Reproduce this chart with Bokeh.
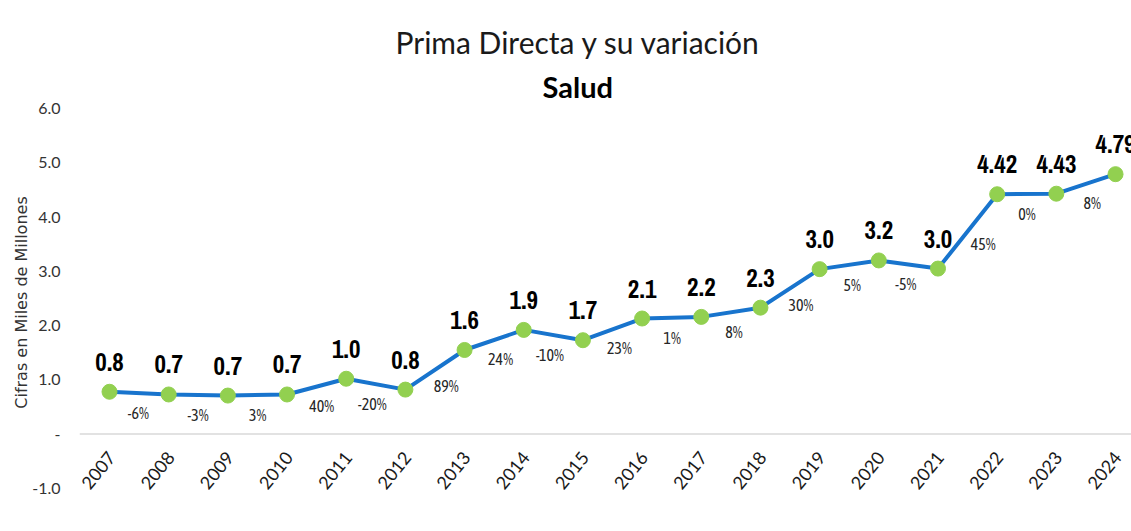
import math
from bokeh.plotting import figure
from bokeh.models import Range1d, FixedTicker, ColumnDataSource, Title, NumeralTickFormatter, Span
from bokeh.core.properties import value
from bokeh.embed import file_html
from bokeh.resources import INLINE

years = ["2007", "2008", "2009", "2010", "2011", "2012", "2013", "2014", "2015",
         "2016", "2017", "2018", "2019", "2020", "2021", "2022", "2023", "2024"]
prima = [0.78, 0.73, 0.71, 0.73, 1.02, 0.82, 1.55, 1.92, 1.73,
         2.13, 2.16, 2.33, 3.04, 3.20, 3.05, 4.42, 4.43, 4.79]
prima_labels = ["0.8", "0.7", "0.7", "0.7", "1.0", "0.8", "1.6", "1.9", "1.7",
                "2.1", "2.2", "2.3", "3.0", "3.2", "3.0", "4.42", "4.43", "4.79"]
variation = [-6, -3, 3, 40, -20, 89, 24, -10, 23, 1, 8, 30, 5, -5, 45, 0, 8]
y_ticks = [-1, 0, 1, 2, 3, 4, 5, 6]

BODY = "Lato"
NUM = "Archivo Narrow"
PCT = "Asap Condensed"

W, H = 1131, 531
LEFT, TOP, BOTTOM = 79, 108, 35
X0, X1 = -0.507, 17.27
Y0, Y1 = -1.15, 6.0
ux = (W - LEFT) / (X1 - X0)
uy = (H - TOP - BOTTOM) / (Y1 - Y0)

idx = list(range(len(years)))
src = ColumnDataSource(dict(x=idx, y=prima, lab=prima_labels))
ysrc = ColumnDataSource(dict(x=idx, y=[0] * len(years), lab=years))

# variation labels: midway along each segment, pushed below the line (perpendicular)
mx, my, ox, oy = [], [], [], []
for i in range(len(variation)):
    dv = (prima[i + 1] - prima[i]) * uy
    ln = math.hypot(ux, dv)
    mx.append(i + 0.5)
    my.append((prima[i] + prima[i + 1]) / 2)
    ox.append(20 * dv / ln)
    oy.append(20 * ux / ln)
mid = ColumnDataSource(dict(x=mx, y=my, ox=ox, oy=oy, lab=[f"{v}%" for v in variation]))

p = figure(width=W, height=H, x_range=Range1d(X0, X1), y_range=Range1d(Y0, Y1),
           output_backend="svg", toolbar_location=None,
           min_border_left=LEFT, min_border_right=0, min_border_top=TOP, min_border_bottom=BOTTOM)
p.outline_line_color = None
p.grid.visible = False
p.xaxis.visible = False

p.add_layout(Title(text="Salud", align="left", offset=463, text_font=BODY, standoff=10,
                   text_font_size="29px", text_font_style="bold", text_color="black"), "above")
p.add_layout(Title(text="Prima Directa y su variación", align="left", offset=316, standoff=3,
                   text_font=BODY, text_font_size="30px", text_font_style="normal",
                   text_color="#1a1a1a"), "above")

p.add_layout(Span(location=0, dimension="width", line_color="#d9d9d9", line_width=1.5))

ya = p.yaxis[0]
ya.ticker = FixedTicker(ticks=y_ticks)
ya.formatter = NumeralTickFormatter(format="0.0")
ya.major_label_overrides = {0: "-"}
ya.axis_line_color = None
ya.major_tick_line_color = None
ya.major_tick_out = 0
ya.major_tick_in = 0
ya.minor_tick_line_color = None
ya.major_label_standoff = 19
ya.major_label_text_font = BODY
ya.major_label_text_font_size = "16px"
ya.major_label_text_color = "#333333"
ya.axis_label = "Cifras en Miles de Millones"
ya.axis_label_text_font = "DejaVu Sans"
ya.axis_label_text_font_size = "16px"
ya.axis_label_text_font_style = "normal"
ya.axis_label_text_color = "#333333"
ya.axis_label_standoff = -2

p.line("x", "y", source=src, line_color="#1874CD", line_width=4)
p.scatter("x", "y", source=src, size=15, fill_color="#92D050", line_color="#92D050")
p.text("x", "y", text="lab", source=src, y_offset=-30, text_align="center",
       text_baseline="middle", text_font=value(NUM), text_font_style="bold",
       text_font_size="25px", text_color="black")
p.text("x", "y", text="lab", source=mid, x_offset="ox", y_offset="oy", text_align="center",
       text_baseline="middle", text_font=value(PCT), text_font_size="16px",
       text_color="#262626")
p.text("x", "y", text="lab", source=ysrc, angle=0.89, x_offset=2, y_offset=20,
       text_align="right", text_baseline="middle", text_font=value(BODY),
       text_font_size="18px", text_color="#1a1a1a")

open("out.html", "w").write(file_html(p, INLINE))
